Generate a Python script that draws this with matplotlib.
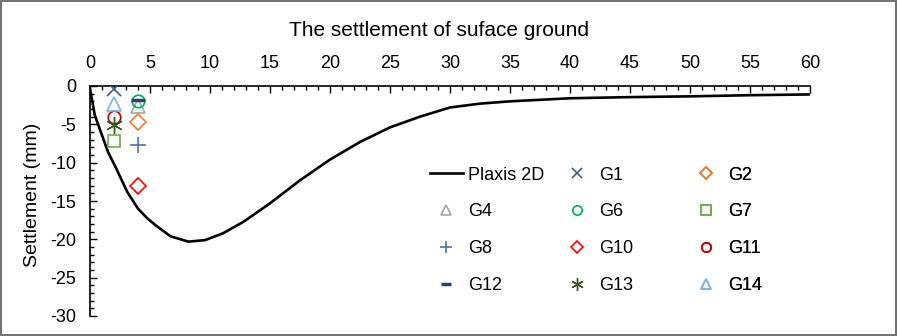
import numpy as np
import matplotlib.pyplot as plt
from matplotlib.patches import Rectangle
from matplotlib.ticker import MultipleLocator

plt.rcParams['font.family'] = ['Liberation Sans', 'DejaVu Sans']
plt.rcParams['axes.unicode_minus'] = False

# Plaxis 2D settlement profile
dist = [0, 0.4, 0.9, 1.5, 2.2, 3.1, 4.0, 4.8, 5.5, 6.7, 8.2, 9.6, 11.1, 12.8,
        15, 17.5, 20, 22.5, 25, 27.5, 30, 32.5, 35, 40, 45, 50, 55, 60]
settle = [-0.4, -3.8, -6.0, -8.6, -10.8, -13.8, -16.0, -17.3, -18.2, -19.6,
          -20.3, -20.1, -19.2, -17.7, -15.3, -12.3, -9.6, -7.3, -5.4, -4.0,
          -2.8, -2.3, -2.0, -1.6, -1.45, -1.35, -1.2, -1.1]

# gauge readings
gauges = ['G1', 'G2', 'G4', 'G6', 'G7', 'G8', 'G10', 'G11', 'G12', 'G13', 'G14']
gauge_x = [2, 4, 4, 4, 2, 4, 4, 2, 4, 2, 2]
gauge_y = [-0.4, -4.7, -2.6, -2.0, -7.2, -7.7, -13.0, -4.0, -1.8, -5.1, -2.3]

styles = {
    'G1':  dict(marker='x', color='#3A5F8A', mfc='none'),
    'G2':  dict(marker='D', color='#ED7D31', mfc='none', ms=8),
    'G4':  dict(marker='^', color='#A5A5A5', mfc='none'),
    'G6':  dict(marker='o', color='#00B050', mfc='none', ms=9),
    'G7':  dict(marker='s', color='#70AD47', mfc='none', ms=9),
    'G8':  dict(marker='+', color='#4A74A8', mfc='none', ms=11),
    'G10': dict(marker='D', color='#FF0000', mfc='none', ms=8),
    'G11': dict(marker='o', color='#C00000', mfc='none', ms=9),
    'G12': dict(marker='_', color='#2B4270', mfc='none', mew=2.5),
    'G13': dict(marker=(6, 2, 0), color='#375623', mfc='none', ms=12, mew=1.0),
    'G14': dict(marker='^', color='#7FB2E0', mfc='none'),
}

fig = plt.figure(figsize=(8.98, 3.36), dpi=100)
fig.patches.append(Rectangle((0.001, 0.002), 0.997, 0.995, transform=fig.transFigure,
                             fill=False, edgecolor='#595959', linewidth=1.2))
ax = fig.add_axes([90 / 898, 20 / 336, 720 / 898, 230 / 336])

handles = {}
line, = ax.plot(dist, settle, color='black', lw=1.9, label='Plaxis 2D', zorder=3)
handles['Plaxis 2D'] = line
for name, gx, gy in zip(gauges, gauge_x, gauge_y):
    st = dict(ms=10, mew=1.2)
    st.update(styles[name])
    h, = ax.plot(gx, gy, linestyle='none', label=name, zorder=4, **st)
    handles[name] = h

ax.set_xlim(0, 60)
ax.set_ylim(-30, 0)
ax.spines['right'].set_visible(False)
ax.spines['bottom'].set_visible(False)
ax.spines['left'].set_linewidth(1.2)
ax.spines['top'].set_linewidth(1.2)
ax.xaxis.set_ticks_position('top')
ax.xaxis.set_label_position('top')
ax.xaxis.set_major_locator(MultipleLocator(5))
ax.xaxis.set_minor_locator(MultipleLocator(1))
ax.yaxis.set_major_locator(MultipleLocator(5))
ax.yaxis.set_minor_locator(MultipleLocator(1))
ax.tick_params(which='both', direction='in', labelsize=13, width=1)
ax.tick_params(which='major', length=5)
ax.tick_params(which='minor', length=3)
ax.tick_params(axis='x', which='major', pad=10)
ax.tick_params(axis='y', which='major', pad=10)
ax.set_xticklabels([f'{int(v)}' for v in ax.get_xticks()])

fig.text(439 / 898, 1 - 30 / 336, 'The settlement of suface ground',
         fontsize=15, ha='center', va='center')
ax.set_ylabel('Settlement (mm)', fontsize=14)
ax.yaxis.set_label_coords(-0.068, 0.526)

# three legend columns, read row by row
columns = [['Plaxis 2D', 'G4', 'G8', 'G12'],
           ['G1', 'G6', 'G10', 'G13'],
           ['G2', 'G7', 'G11', 'G14']]
col_x = [0.472, 0.6535, 0.8326]
for names, cx in zip(columns, col_x):
    leg = ax.legend([handles[k] for k in names], names, frameon=False,
                    fontsize=13, markerscale=0.75, loc='upper left',
                    bbox_to_anchor=(cx, 0.650), borderpad=0, borderaxespad=0,
                    labelspacing=1.1, handlelength=1.83, handletextpad=0.3)
    ax.add_artist(leg)

fig.savefig('out.png', dpi=100)
